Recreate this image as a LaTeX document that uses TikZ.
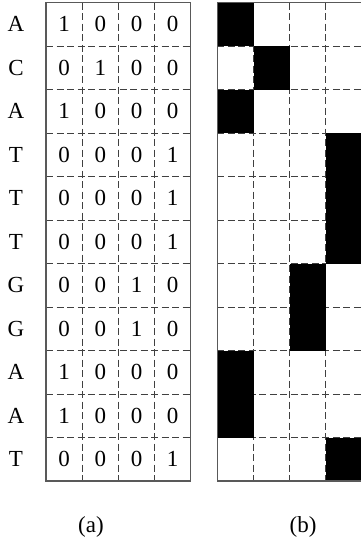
\documentclass[tikz,border=0pt]{standalone}
\usepackage{fontspec}
\setmainfont{Liberation Serif}
\begin{document}
\begin{tikzpicture}[x=1pt,y=-1pt,line cap=butt,line join=miter]
  \tikzset{
    frameline/.style={line width=1.3pt,draw=black!65},
    gridline/.style={line width=0.9pt,draw=black!75,dash pattern=on 7pt off 3.5pt},
    cellfill/.style={fill=black},
    celltext/.style={inner sep=0pt,font=\fontsize{23}{25}\selectfont},
  }
  \useasboundingbox (0,0) rectangle (361,547);

  \def\lx{46}   % left edge of (a)
  \def\rx{217.3} % left edge of (b)
  \def\ty{2.5}  % top edge
  \def\cw{36.2} % cell width
  \def\ch{43.5} % cell height

  % ==================== (a) one-hot matrix ====================
  \foreach \i in {1,2,3}
    \draw[gridline] (\lx+\i*\cw,\ty) -- (\lx+\i*\cw,\ty+11*\ch);
  \foreach \j in {1,...,10}
    \draw[gridline] (\lx,\ty+\j*\ch) -- (\lx+4*\cw,\ty+\j*\ch);
  \draw[frameline] (\lx,\ty) rectangle (\lx+4*\cw,\ty+11*\ch);

  \foreach \base/\va/\vb/\vc/\vd [count=\r from 0] in
      {A/1/0/0/0, C/0/1/0/0, A/1/0/0/0, T/0/0/0/1, T/0/0/0/1, T/0/0/0/1,
       G/0/0/1/0, G/0/0/1/0, A/1/0/0/0, A/1/0/0/0, T/0/0/0/1} {
    \node[celltext] (base\r) at (16,\ty+\r*\ch+0.5*\ch) {\base};
    \node[celltext] (m\r-1) at (\lx+0.5*\cw,\ty+\r*\ch+0.5*\ch) {\va};
    \node[celltext] (m\r-2) at (\lx+1.5*\cw,\ty+\r*\ch+0.5*\ch) {\vb};
    \node[celltext] (m\r-3) at (\lx+2.5*\cw,\ty+\r*\ch+0.5*\ch) {\vc};
    \node[celltext] (m\r-4) at (\lx+3.5*\cw,\ty+\r*\ch+0.5*\ch) {\vd};
  }

  % ==================== (b) image of the matrix ====================
  \foreach \i in {1,2,3}
    \draw[gridline] (\rx+\i*\cw,\ty) -- (\rx+\i*\cw,\ty+11*\ch);
  \foreach \j in {1,...,10}
    \draw[gridline] (\rx,\ty+\j*\ch) -- (\rx+4*\cw,\ty+\j*\ch);

  % black cells: column / first row / last row
  \foreach \c/\ra/\rb in {0/0/0, 1/1/1, 0/2/2, 3/3/5, 2/6/7, 0/8/9, 3/10/10}
    \fill[cellfill] (\rx+\c*\cw,\ty+\ra*\ch) rectangle (\rx+\c*\cw+\cw,\ty+\rb*\ch+\ch);

  \draw[frameline] (\rx,\ty) rectangle (\rx+4*\cw,\ty+11*\ch);

  % ==================== captions ====================
  \node[celltext] (capa) at (91,527) {(a)};
  \node[celltext] (capb) at (303,527) {(b)};
\end{tikzpicture}
\end{document}
